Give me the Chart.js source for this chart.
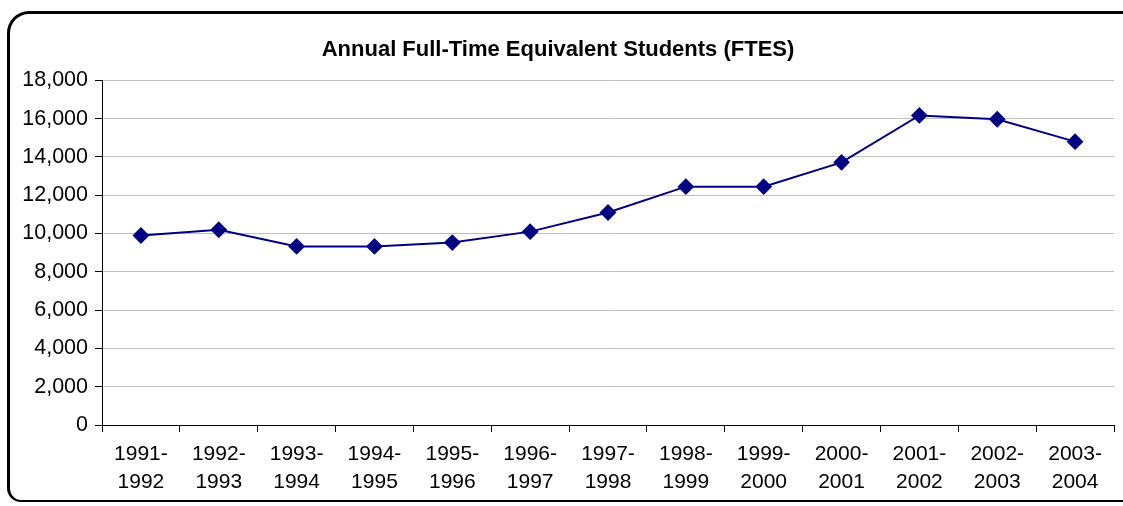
<!DOCTYPE html>
<html>
<head>
<meta charset="utf-8">
<script src="https://cdn.jsdelivr.net/npm/chart.js@4/dist/chart.umd.min.js"></script>
<style>
  html, body { margin: 0; padding: 0; background: #fff; }
  #wrap { position: relative; width: 1123px; height: 506px; overflow: hidden; }
  #frame {
    position: absolute; left: 7px; top: 11px; width: 1130px; height: 491px;
    border: 2px solid #000; border-left-width: 3px; border-top-width: 3px;
    border-radius: 22px 0 0 14px; box-sizing: border-box;
  }
  canvas { position: absolute; left: 0; top: 0; }
</style>
</head>
<body>
<div id="wrap">
  <div id="frame"></div>
  <canvas id="chart" width="1123" height="506"></canvas>
</div>
<script>
// school years and FTES values
var years = [
  ['1991-', '1992'], ['1992-', '1993'], ['1993-', '1994'], ['1994-', '1995'],
  ['1995-', '1996'], ['1996-', '1997'], ['1997-', '1998'], ['1998-', '1999'],
  ['1999-', '2000'], ['2000-', '2001'], ['2001-', '2002'], ['2002-', '2003'],
  ['2003-', '2004']
];
var ftes = [9900, 10200, 9330, 9330, 9530, 10100, 11100, 12450, 12450, 13720, 16170, 15970, 14800];
var yMax = 18000;
var yStep = 2000;

var ctx = document.getElementById('chart').getContext('2d');
new Chart(ctx, {
  type: 'line',
  data: {
    labels: years,
    datasets: [{
      label: 'FTES',
      data: ftes,
      borderColor: '#000080',
      backgroundColor: '#000080',
      borderWidth: 2,
      pointStyle: 'rectRot',
      pointRadius: 7,
      pointHoverRadius: 7,
      tension: 0
    }]
  },
  options: {
    responsive: false,
    animation: false,
    layout: { padding: { left: 0, right: 7, top: 0, bottom: 0 } },
    plugins: {
      legend: { display: false },
      tooltip: { enabled: false },
      title: {
        display: true,
        text: 'Annual Full-Time Equivalent Students (FTES)',
        color: '#000',
        font: { family: 'Liberation Sans, Arial, sans-serif', size: 22, weight: 'bold' },
        padding: { top: 37, bottom: 17 }
      }
    },
    scales: {
      x: {
        offset: true,
        grid: { offset: true, drawOnChartArea: false, tickLength: 7, tickColor: '#000' },
        border: { color: '#000', width: 1 },
        ticks: {
          color: '#000',
          maxRotation: 0,
          autoSkip: false,
          padding: 9,
          font: { family: 'Liberation Sans, Arial, sans-serif', size: 21, lineHeight: 1.3 }
        },
        afterFit: function(axis) { axis.height = 81; }
      },
      y: {
        min: 0,
        max: yMax,
        grid: { color: '#c0c0c0', tickLength: 7, tickColor: '#000' },
        border: { color: '#000', width: 1 },
        ticks: {
          stepSize: yStep,
          color: '#000',
          padding: 7,
          font: { family: 'Liberation Sans, Arial, sans-serif', size: 21.5 },
          callback: function(v) { return v.toLocaleString('en-US'); }
        },
        afterFit: function(axis) { axis.width = 102; }
      }
    }
  }
});
</script>
</body>
</html>
